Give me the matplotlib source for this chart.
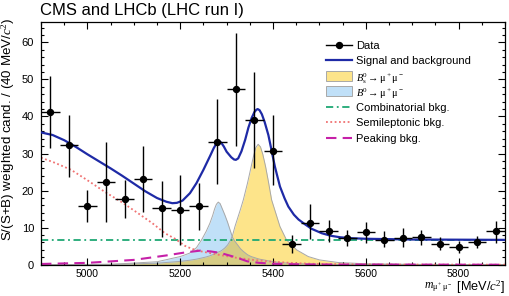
import numpy as np
import matplotlib
matplotlib.use("Agg")
import matplotlib.pyplot as plt
from matplotlib.lines import Line2D
from matplotlib.patches import Rectangle

plt.rcParams['font.family'] = ['Liberation Sans', 'DejaVu Sans']
plt.rcParams['mathtext.fontset'] = 'custom'
plt.rcParams['mathtext.rm'] = 'Liberation Serif'
plt.rcParams['mathtext.it'] = 'Liberation Serif:italic'

# data points (bin centres, 40 MeV bins)
mass = np.arange(4920, 5900, 40)
counts = [41.1, 32.2, 15.9, 22.4, 17.8, 23.1, 15.2, 14.8, 15.9, 33.2,
          47.4, 39.1, 30.7, 5.6, 11.3, 9.0, 7.2, 8.8, 6.8, 7.2,
          7.5, 5.7, 4.7, 6.0, 9.0]
err_up = [50.8, 40.5, 20.2, 33.2, 22.9, 32.1, 22.6, 24.2, 22.0, 44.7,
          62.4, 51.9, 40.5, 8.0, 16.5, 12.0, 9.3, 11.5, 9.0, 9.9,
          9.5, 7.4, 6.3, 7.7, 11.9]
err_dn = [31.5, 23.8, 11.6, 11.6, 12.5, 14.3, 7.6, 5.3, 9.4, 21.8,
          32.1, 26.0, 21.5, 3.1, 7.0, 6.0, 5.1, 5.9, 4.7, 4.7,
          5.4, 4.1, 3.2, 4.5, 5.9]

# total fit curve
m_tot = [4900, 4925, 4950, 4975, 5000, 5025, 5050, 5075, 5100, 5125,
         5150, 5170, 5183, 5193, 5205, 5221, 5235, 5250, 5265, 5272,
         5278, 5283, 5288, 5294, 5300, 5310, 5316, 5320, 5325, 5332,
         5340, 5347, 5354, 5360, 5364, 5367, 5371, 5376, 5382, 5390,
         5397, 5404, 5415, 5425, 5433, 5445, 5455, 5469, 5483, 5505,
         5525, 5545, 5570, 5600, 5650, 5700, 5800, 5900]
v_tot = [35.7, 35.0, 33.6, 31.8, 29.8, 27.9, 26.0, 24.0, 21.9, 19.8,
         18.0, 17.0, 16.6, 16.7, 17.3, 19.3, 22.0, 25.6, 29.5, 31.4,
         32.7, 33.3, 33.0, 31.9, 30.5, 29.0, 28.4, 28.3, 28.7, 30.6,
         33.7, 37.0, 39.6, 41.2, 41.8, 42.0, 41.7, 40.6, 38.5, 35.0,
         30.8, 26.5, 21.1, 17.9, 15.7, 13.5, 12.2, 10.9, 9.7, 8.5,
         7.8, 7.4, 7.15, 7.0, 6.9, 6.8, 6.75, 6.7]

# signal components, shared mass grid
m_sig = [4900, 5050, 5150, 5200, 5220, 5235, 5246, 5256, 5264, 5270,
         5274, 5278, 5282, 5286, 5290, 5296, 5302, 5309, 5313, 5318,
         5330, 5336, 5345, 5353, 5358, 5363, 5368, 5373, 5378, 5384,
         5390, 5397, 5415, 5429, 5451, 5476, 5500, 5540, 5600, 5700, 5900]
v_bs = [0, 0.1, 0.4, 0.9, 1.2, 1.5, 1.8, 2.1, 2.4, 2.7,
        2.9, 3.1, 3.4, 3.6, 3.9, 4.5, 5.3, 6.7, 8.0, 10.3,
        15.0, 17.5, 22.0, 26.5, 29.3, 31.6, 32.5, 31.8, 29.8, 26.5,
        22.5, 17.5, 10.3, 6.7, 4.0, 2.2, 1.3, 0.6, 0.25, 0.1, 0]
v_b0 = [0, 0.1, 0.8, 2.2, 3.1, 4.6, 6.7, 9.0, 11.2, 13.3,
        15.0, 16.3, 16.9, 16.5, 15.3, 13.5, 11.5, 8.8, 7.3, 6.3,
        4.3, 3.6, 2.7, 2.2, 2.0, 1.8, 1.6, 1.45, 1.35, 1.2,
        1.05, 0.9, 0.6, 0.45, 0.3, 0.2, 0.15, 0.08, 0.05, 0.02, 0]

# backgrounds
m_comb = [4900, 5900]
v_comb = [6.6, 6.6]

m_semi = [4900, 4930, 4965, 5000, 5037, 5075, 5109, 5140, 5167, 5189, 5210,
          5225, 5245, 5286, 5320, 5357, 5400, 5451, 5500, 5560, 5650, 5900]
v_semi = [28.9, 27.5, 25.6, 22.8, 19.7, 16.8, 13.9, 11.2, 8.5, 7.0, 5.1,
          4.3, 3.6, 2.6, 1.9, 1.3, 0.8, 0.4, 0.2, 0.1, 0.05, 0.0]

m_peak = [4900, 5000, 5100, 5170, 5210, 5243, 5265, 5286, 5320, 5345, 5370,
          5400, 5450, 5500, 5900]
v_peak = [0.2, 0.5, 1.3, 2.5, 3.3, 3.8, 3.6, 3.2, 2.0, 0.9, 0.5,
          0.25, 0.1, 0.05, 0.0]

legend_labels = ['Data', 'Signal and background',
                 r'$B^0_\mathrm{s}\!\rightarrow\,\mathrm{\mu^+\mu^-}$',
                 r'$B^0\!\rightarrow\,\mathrm{\mu^+\mu^-}$',
                 'Combinatorial bkg.', 'Semileptonic bkg.', 'Peaking bkg.']

c_total = '#1e2aa6'
c_bs = '#fde48a'
c_b0 = '#c0e0f8'
c_both = '#d6cc84'
c_comb = '#1fa874'
c_semi = '#f07272'
c_peak = '#c620a8'
c_edge = '#a8a8a8'
ls_comb = (0, (4, 2, 1, 2))
ls_semi = (0, (1, 1.4))
ls_peak = (0, (5, 3))

W, H = 510, 296
fig = plt.figure(figsize=(W / 100, H / 100), dpi=100)
ax = fig.add_axes([0.0804, 0.1057, 0.9098, 0.82])

ax.fill_between(m_sig, 0, v_bs, color=c_bs, lw=0, zorder=1)
ax.fill_between(m_sig, 0, v_b0, color=c_b0, lw=0, zorder=1)
ax.fill_between(m_sig, 0, np.minimum(v_bs, v_b0), color=c_both, lw=0, zorder=1.1)
ax.plot(m_sig, v_bs, color=c_edge, lw=0.7, zorder=1.2)
ax.plot(m_sig, v_b0, color=c_edge, lw=0.7, zorder=1.2)

ax.plot(m_comb, v_comb, color=c_comb, lw=1.3, ls=ls_comb, zorder=2)
ax.plot(m_semi, v_semi, color=c_semi, lw=1.3, ls=ls_semi, zorder=2)
ax.plot(m_peak, v_peak, color=c_peak, lw=1.5, ls=ls_peak, zorder=2)
ax.plot(m_tot, v_tot, color=c_total, lw=1.6, zorder=3)

yerr = [np.array(counts) - np.array(err_dn), np.array(err_up) - np.array(counts)]
ax.errorbar(mass, counts, yerr=yerr, xerr=20, fmt='o', color='k', ms=4.3,
            elinewidth=1.0, capsize=0, zorder=4)

ax.set_xlim(4900, 5900)
ax.set_ylim(0, 65.5)
ax.set_xticks([5000, 5200, 5400, 5600, 5800])
ax.set_xticks(np.arange(4900, 5901, 50), minor=True)
ax.set_yticks(np.arange(0, 61, 10))
ax.set_yticks(np.arange(0, 65, 2), minor=True)
ax.tick_params(which='both', direction='in', top=True, right=True, width=0.8)
ax.tick_params(which='major', length=5)
ax.tick_params(which='minor', length=2.5)
ax.tick_params(axis='x', pad=3, labelsize=7.5)
ax.tick_params(axis='y', pad=5, labelsize=8)
for s in ax.spines.values():
    s.set_linewidth(0.9)

ax.set_ylabel('S/(S+B) weighted cand. / (40 MeV/$c^2$)', fontsize=9.6, loc='top')
ax.yaxis.set_label_coords(-0.051, 1.02)

# x axis title in two pieces so the subscript can stay small
t_unit = ax.text(1.0, -0.055, ' [MeV/$c^2$]', transform=ax.transAxes,
                 ha='right', va='top', fontsize=9.2)
ax.annotate(r'$m_{\mathrm{\mu^+\mu^-}}$', xy=(0, 0.12), xycoords=t_unit,
            ha='right', va='bottom', fontsize=8.5)

fig.text(40 / W, 1 - 11 / H, 'CMS and LHCb (LHC run I)', fontsize=12,
         ha='left', va='center')

# legend, drawn row by row (pixel layout of the reference)
x0, x1, xt = 326 / W, 352 / W, 356 / W
for i, lab in enumerate(legend_labels):
    yc = 1 - (45 + 15.45 * i) / H
    fs = 8
    if i == 0:
        fig.add_artist(Line2D([x0, x1], [yc, yc], color='k', lw=1.0,
                              transform=fig.transFigure))
        fig.add_artist(Line2D([(x0 + x1) / 2], [yc], color='k', marker='o',
                              ms=4.3, transform=fig.transFigure))
    elif i == 1:
        fig.add_artist(Line2D([x0, x1], [yc, yc], color=c_total, lw=1.6,
                              transform=fig.transFigure))
    elif i in (2, 3):
        fs = 7.4
        fc = c_bs if i == 2 else c_b0
        fig.add_artist(Rectangle((x0, yc - 5 / H), x1 - x0, 10 / H,
                                 facecolor=fc, edgecolor=c_edge, lw=0.7,
                                 transform=fig.transFigure))
    else:
        col, ls, lw = [(c_comb, ls_comb, 1.3), (c_semi, ls_semi, 1.3),
                       (c_peak, ls_peak, 1.5)][i - 4]
        fig.add_artist(Line2D([x0, x1], [yc, yc], color=col, lw=lw, ls=ls,
                              transform=fig.transFigure))
    fig.text(xt, yc, lab, fontsize=fs, ha='left', va='center_baseline')

fig.savefig('out.png', dpi=100)
